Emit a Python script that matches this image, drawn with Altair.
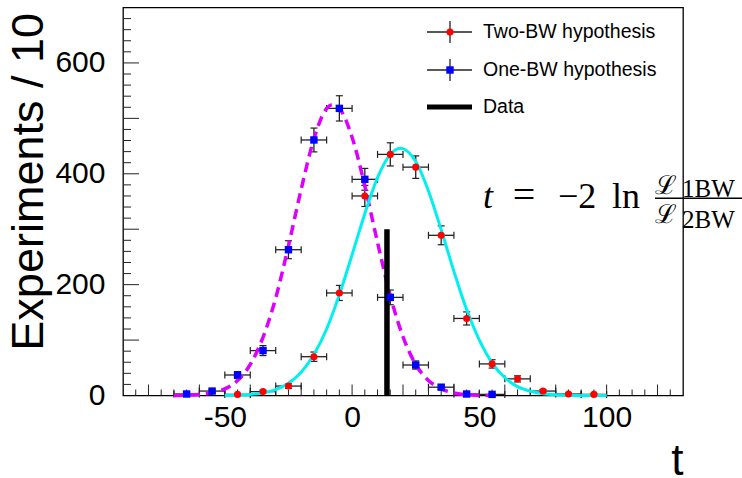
import altair as alt
import pandas as pd

# ---------------- data ----------------
# Two-BW hypothesis pseudo-experiments (red circles)
two_x = [-45, -35, -25, -15, -5, 5, 15, 25, 35, 45, 55, 65, 75, 85, 95]
two_y = [2, 7, 17, 70, 185, 360, 435, 412, 289, 139, 57, 30, 8, 2.7, 2]
two_err = [1.4, 2.6, 4.1, 8.4, 13.6, 19.0, 20.9, 20.3, 17.0, 11.8, 7.5, 5.5, 2.8, 1.6, 1.4]

# One-BW hypothesis pseudo-experiments (blue squares)
one_x = [-65, -55, -45, -35, -25, -15, -5, 5, 15, 25, 35, 45, 55]
one_y = [2.7, 8, 37, 81, 263, 461, 518, 390, 177, 55, 15, 2.7, 2]
one_err = [1.6, 2.8, 6.1, 9.0, 16.2, 21.5, 22.8, 19.7, 13.3, 7.4, 3.9, 1.6, 1.4]

bin_half = 5

# fitted curves
mag_x = [-70, -65, -60, -55, -50, -45, -40, -35, -30, -25, -20, -15, -10, -7.5,
         -5, 0, 5, 10, 15, 20, 25, 30, 35, 40, 45, 50, 55, 58]
mag_y = [0, 0.5, 2, 5, 12, 27, 56, 105, 176, 270, 372, 463, 518, 525,
         518, 466, 378, 276, 180, 106, 56, 27, 12, 4.5, 1.5, 0.5, 0.1, 0]

cyan_x = [-50, -45, -40, -35, -30, -25, -20, -15, -10, -5, 0, 5, 10, 15, 19,
          25, 30, 35, 40, 45, 50, 55, 60, 65, 70, 75, 80, 85, 90, 95, 100]
cyan_y = [0.3, 0.9, 2, 5, 10.5, 22, 42, 74, 120, 182, 254, 328, 393, 435, 446,
          422, 369, 299, 224, 155, 100, 59, 32, 16, 7.7, 3.3, 1.3, 0.5, 0.2, 0.1, 0]

# observed value
data_t = [13.7]
data_n = [300]

# axis labels / ticks
x_labels = [-50, 0, 50, 100]
y_labels = [0, 200, 400, 600]
x_major_ticks = [v for v in range(-80, 121, 20)]
x_minor_ticks = [v for v in range(-85, 130, 5) if v % 20 != 0]
y_major_ticks = [v for v in range(100, 700, 100)]
y_minor_ticks = [v for v in range(20, 700, 20) if v % 100 != 0]

# ---------------- layout ----------------
W, H = 560, 388
FONT = "Liberation Sans"
SERIF = "Liberation Serif, DejaVu Serif, serif"

xs = alt.Scale(domain=[-90, 130], nice=False, zero=False)
ys = alt.Scale(domain=[0, 700], nice=False, zero=False)

xax = alt.Axis(values=x_labels, ticks=False, tickSize=0, domain=False, grid=False,
               labelFont=FONT, labelFontSize=30, labelColor="black", labelPadding=7,
               labelFlush=False, labelOverlap=False, labelExpr="'' + datum.value",
               title="t", titleFont=FONT, titleFontSize=44, titleFontWeight="normal",
               titleColor="black", titleX=W, titleY=79, titleAlign="right",
               titleBaseline="alphabetic", titleAngle=0)
yax = alt.Axis(values=y_labels, ticks=False, tickSize=0, domain=False, grid=False,
               labelFont=FONT, labelFontSize=30, labelColor="black", labelPadding=18,
               labelFlush=False, labelOverlap=False, labelExpr="'' + datum.value",
               title="Experiments / 10", titleFont=FONT, titleFontSize=45,
               titleFontWeight="normal", titleColor="black", titleAngle=270,
               titleX=-81, titleY=5, titleAlign="right", titleBaseline="alphabetic")

X = lambda f: alt.X(f, type="quantitative", scale=xs, axis=xax)
Y = lambda f: alt.Y(f, type="quantitative", scale=ys, axis=yax)

one = alt.Chart(pd.DataFrame({"x": [0]}))

# ticks (ROOT style, inside)
xt_major = alt.Chart(pd.DataFrame({"x": x_major_ticks})).mark_rule(color="#222", strokeWidth=1).encode(
    x=X("x"), y=alt.value(H), y2=alt.value(H - 11))
xt_minor = alt.Chart(pd.DataFrame({"x": x_minor_ticks})).mark_rule(color="#222", strokeWidth=1).encode(
    x=X("x"), y=alt.value(H), y2=alt.value(H - 6))
yt_major = alt.Chart(pd.DataFrame({"y": y_major_ticks})).mark_rule(color="#222", strokeWidth=1).encode(
    y=Y("y"), x=alt.value(0), x2=alt.value(16))
yt_minor = alt.Chart(pd.DataFrame({"y": y_minor_ticks})).mark_rule(color="#222", strokeWidth=1).encode(
    y=Y("y"), x=alt.value(0), x2=alt.value(8))

# curves
mag = alt.Chart(pd.DataFrame({"x": mag_x, "y": mag_y})).mark_line(
    color="#dd00ff", strokeWidth=3.5, strokeDash=[10, 6], interpolate="monotone").encode(
    x=X("x"), y=Y("y"))
cyan = alt.Chart(pd.DataFrame({"x": cyan_x, "y": cyan_y})).mark_line(
    color="#00f0f0", strokeWidth=3, interpolate="monotone").encode(
    x=X("x"), y=Y("y"))

# observed data line
dline = alt.Chart(pd.DataFrame({"x": data_t, "n": data_n})).mark_rule(
    color="black", strokeWidth=5.5).encode(
    x=X("x"), y=alt.Y("z:Q", scale=ys, axis=yax), y2="n:Q").transform_calculate(z="0")


def points(xv, yv, ev, shape, color, size):
    base = alt.Chart(pd.DataFrame({"x": xv, "y": yv, "e": ev})).transform_calculate(
        xlo=f"datum.x - {bin_half}", xhi=f"datum.x + {bin_half}",
        ylo="datum.y - datum.e", yhi="datum.y + datum.e")
    hbar = base.mark_rule(color="#222", strokeWidth=1.3).encode(x=X("xlo"), x2="xhi:Q", y=Y("y"))
    vbar = base.mark_rule(color="#222", strokeWidth=1.3).encode(x=X("x"), y=Y("ylo"), y2="yhi:Q")
    hc1 = base.mark_tick(orient="vertical", size=7, thickness=1.2, color="#222", opacity=1).encode(x=X("xlo"), y=Y("y"))
    hc2 = base.mark_tick(orient="vertical", size=7, thickness=1.2, color="#222", opacity=1).encode(x=X("xhi"), y=Y("y"))
    vc1 = base.mark_tick(orient="horizontal", size=7, thickness=1.2, color="#222", opacity=1).encode(x=X("x"), y=Y("ylo"))
    vc2 = base.mark_tick(orient="horizontal", size=7, thickness=1.2, color="#222", opacity=1).encode(x=X("x"), y=Y("yhi"))
    mk = base.mark_point(shape=shape, filled=True, size=size, color=color, opacity=1).encode(x=X("x"), y=Y("y"))
    return [hbar, vbar, hc1, hc2, vc1, vc2], mk


two_err_layers, two_mk = points(two_x, two_y, two_err, "circle", "#ff0000", 50)
one_err_layers, one_mk = points(one_x, one_y, one_err, "square", "#0000ff", 55)

# legend (manual, ROOT style)
LX0, LX1, LXM, LT = 304, 349, 327, 360
leg = []
for yy, color, shape, label, size in [(24.5, "#ff0000", "circle", "Two-BW hypothesis", 50),
                                      (62.5, "#0000ff", "square", "One-BW hypothesis", 55)]:
    leg.append(one.mark_rule(color="#222", strokeWidth=1.3).encode(
        x=alt.value(LX0), x2=alt.value(LX1), y=alt.value(yy)))
    leg.append(one.mark_rule(color="#222", strokeWidth=1.3).encode(
        x=alt.value(LXM), y=alt.value(yy - 11), y2=alt.value(yy + 11)))
    leg.append(one.mark_point(shape=shape, filled=True, size=size, color=color, opacity=1).encode(
        x=alt.value(LXM), y=alt.value(yy)))
    leg.append(one.mark_text(text=label, align="left", baseline="middle", font=FONT,
                             fontSize=19.5, color="black").encode(x=alt.value(LT), y=alt.value(yy)))
leg.append(one.mark_rule(color="black", strokeWidth=5).encode(
    x=alt.value(LX0), x2=alt.value(LX1), y=alt.value(99.5)))
leg.append(one.mark_text(text="Data", align="left", baseline="middle", font=FONT,
                         fontSize=19.5, color="black").encode(x=alt.value(LT), y=alt.value(99.5)))

# formula  t = -2 ln L1BW / L2BW
BL = 200.8
formula = [
    one.mark_text(text="t", align="left", baseline="alphabetic", font=SERIF, fontSize=36,
                  fontStyle="italic", color="black").encode(x=alt.value(360), y=alt.value(BL)),
    one.mark_text(text="=", align="center", baseline="alphabetic", font=SERIF, fontSize=40,
                  color="black").encode(x=alt.value(401), y=alt.value(BL)),
    one.mark_text(text="\u22122", align="left", baseline="alphabetic", font=SERIF, fontSize=36,
                  color="black").encode(x=alt.value(435), y=alt.value(BL)),
    one.mark_text(text="ln", align="left", baseline="alphabetic", font=SERIF, fontSize=36,
                  color="black").encode(x=alt.value(489), y=alt.value(BL)),
    one.mark_rule(color="black", strokeWidth=1.6).encode(
        x=alt.value(532), x2=alt.value(620), y=alt.value(190.8)),
    one.mark_text(text="\u2112", align="left", baseline="alphabetic", font=SERIF, fontSize=26,
                  color="black").encode(x=alt.value(532), y=alt.value(186.5)),
    one.mark_text(text="1BW", align="left", baseline="alphabetic", font=SERIF, fontSize=25,
                  color="black").encode(x=alt.value(559), y=alt.value(189.2)),
    one.mark_text(text="\u2112", align="left", baseline="alphabetic", font=SERIF, fontSize=26,
                  color="black").encode(x=alt.value(532), y=alt.value(215.5)),
    one.mark_text(text="2BW", align="left", baseline="alphabetic", font=SERIF, fontSize=25,
                  color="black").encode(x=alt.value(559), y=alt.value(220.5)),
]

layers = ([xt_major, xt_minor, yt_major, yt_minor] + two_err_layers + one_err_layers
          + [mag, cyan, dline, two_mk, one_mk] + leg + formula)

chart = alt.layer(*layers).properties(
    width=W, height=H,
    autosize="none",
    padding={"left": 123, "top": 7.5, "right": 59, "bottom": 82.5},
    background="white",
).configure_view(stroke="black", strokeWidth=1.3)

chart.save("out.html", embed_options={"renderer": "svg", "actions": False})
